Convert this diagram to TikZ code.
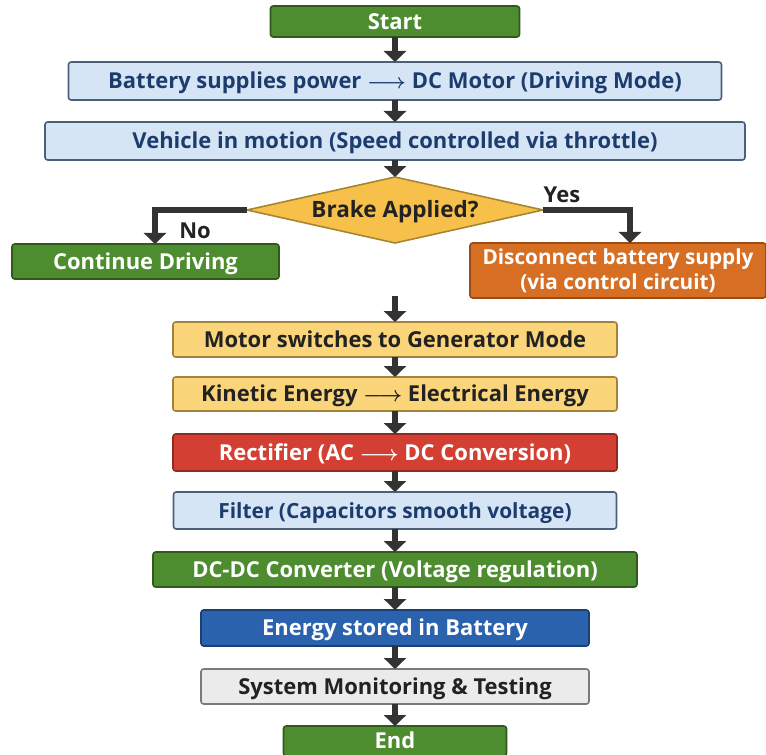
\documentclass[tikz,border=0pt]{standalone}
\usepackage{fontspec}
\setmainfont{Open Sans}
\usetikzlibrary{positioning,shapes.geometric,arrows.meta,calc}

\definecolor{grnF}{HTML}{4D8C2F}
\definecolor{grnD}{HTML}{2F5A1C}
\definecolor{ltbF}{HTML}{D5E5F5}
\definecolor{ltbD}{HTML}{4A607A}
\definecolor{ltbT}{HTML}{1D3C6E}
\definecolor{dmdF}{HTML}{F7C04A}
\definecolor{dmdD}{HTML}{A5862F}
\definecolor{orgF}{HTML}{D66E24}
\definecolor{orgD}{HTML}{9C4B15}
\definecolor{ylwF}{HTML}{FBD57A}
\definecolor{ylwD}{HTML}{A2833A}
\definecolor{redF}{HTML}{D33F32}
\definecolor{redD}{HTML}{8F2A21}
\definecolor{bluF}{HTML}{2B62AD}
\definecolor{bluD}{HTML}{1A3F73}
\definecolor{gryF}{HTML}{EBEBEB}
\definecolor{gryD}{HTML}{7A7A7A}
\definecolor{arrC}{HTML}{333333}
\definecolor{txtC}{HTML}{222222}

\newcommand{\tto}{{\boldmath$\longrightarrow$}}

\begin{document}
\begin{tikzpicture}[box/.style={rectangle, rounded corners=1.5pt, line width=0.9pt, inner sep=1pt, outer sep=0pt, align=center, text height=12pt, text depth=3.1pt, font=\bfseries\fontsize{12.5}{14}\selectfont},
        greenbox/.style={box, draw=grnD, fill=grnF, text=white},
        lightbox/.style={box, draw=ltbD, fill=ltbF, text=ltbT},
        orangebox/.style={box, draw=orgD, fill=orgF, text=white, text height={}, text depth={}, font=\bfseries\fontsize{11.8}{14}\selectfont},
        yellowbox/.style={box, draw=ylwD, fill=ylwF, text=txtC},
        redbox/.style={box, draw=redD, fill=redF, text=white},
        bluebox/.style={box, draw=bluD, fill=bluF, text=white},
        greybox/.style={box, draw=gryD, fill=gryF, text=txtC},
        decision/.style={diamond, aspect=4.5, inner sep=0pt, outer sep=0pt, line width=0.9pt, draw=dmdD, fill=dmdF, text=txtC, minimum width=5.92cm, minimum height=1.32cm, text height=12pt, text depth=3.1pt, font=\bfseries\fontsize{12.8}{14}\selectfont},
        lbl/.style={text=txtC, font=\bfseries\fontsize{12.5}{14}\selectfont},
        flow/.style={line width=3.4pt, draw=arrC, -{Triangle[width=0.44cm,length=0.22cm]}}]

        \useasboundingbox (0,0) rectangle (15.32,-15.1);

        \node[greenbox, minimum width=4.98cm, minimum height=0.62cm] (start) at (7.9,-0.43) {Start};
        \node[lightbox, minimum width=13.06cm, minimum height=0.76cm] (batt) [below=0.5cm of start] {Battery supplies power \tto{} DC Motor (Driving Mode)};
        \node[lightbox, minimum width=14cm, minimum height=0.76cm] (veh) [below=0.44cm of batt] {Vehicle in motion (Speed controlled via throttle)};
        \node[decision] (brake) [below=0.34cm of veh] {Brake Applied?};
        \node[greenbox, minimum width=5.34cm, minimum height=0.7cm] (cont) at (2.91,-5.23) {Continue Driving};
        \node[orangebox, minimum width=5.92cm, minimum height=1.1cm] (disc) at (12.36,-5.41) {Disconnect battery supply\\(via control circuit)};
        \node[lbl] (no) at (3.9,-4.62) {No};
        \node[lbl] (yes) at (11.24,-3.9) {Yes};

        \node[yellowbox, minimum width=8.88cm, minimum height=0.7cm] (motor) at (7.9,-6.79) {Motor switches to Generator Mode};
        \node[yellowbox, minimum width=8.88cm, minimum height=0.68cm] (kin) [below=0.4cm of motor] {Kinetic Energy \tto{} Electrical Energy};
        \node[redbox, minimum width=8.88cm, minimum height=0.74cm] (rect) [below=0.46cm of kin] {Rectifier (AC \tto{} DC Conversion)};
        \node[lightbox, minimum width=8.86cm, minimum height=0.74cm, font=\bfseries\fontsize{11.9}{14}\selectfont] (filt) [below=0.42cm of rect] {Filter (Capacitors smooth voltage)};
        \node[greenbox, minimum width=9.68cm, minimum height=0.7cm] (dcdc) [below=0.46cm of filt] {DC-DC Converter (Voltage regulation)};
        \node[bluebox, minimum width=7.76cm, minimum height=0.72cm] (store) [below=0.46cm of dcdc] {Energy stored in Battery};
        \node[greybox, minimum width=7.76cm, minimum height=0.7cm] (mon) [below=0.46cm of store] {System Monitoring \& Testing};
        \node[greenbox, minimum width=4.46cm, minimum height=0.56cm] (stop) [below=0.44cm of mon] {End};

        \coordinate (gap) at ($(motor.north)+(0,0.52)$);

        \draw[flow] (start) -- (batt);
        \draw[flow] (batt) -- (veh);
        \draw[flow] (veh) -- (brake);
        \draw[flow] (brake.west) -| ($(cont.north)+(0.19,0)$);
        \draw[flow] (brake.east) -| ($(disc.north)+(0.24,0)$);
        \draw[flow] (gap) -- (motor);
        \draw[flow] (motor) -- (kin);
        \draw[flow] (kin) -- (rect);
        \draw[flow] (rect) -- (filt);
        \draw[flow] (filt) -- (dcdc);
        \draw[flow] (dcdc) -- (store);
        \draw[flow] (store) -- (mon);
        \draw[flow] (mon) -- (stop);

        \end{tikzpicture}
\end{document}
